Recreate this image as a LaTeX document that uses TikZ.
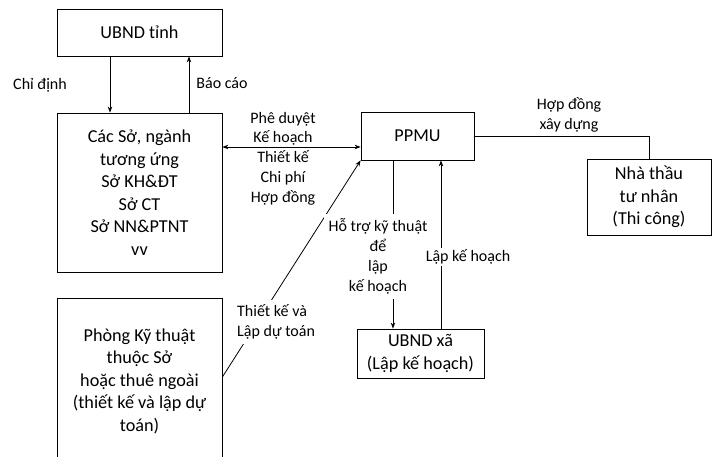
\documentclass[tikz,border=0pt]{standalone}
\usepackage{fontspec}
\setmainfont{Carlito}
\usetikzlibrary{arrows.meta,calc}
\begin{document}
\begin{tikzpicture}[x=1pt,y=-1pt,
  box/.style={draw,line width=0.8pt,align=center,inner sep=0pt,font=\fontsize{18.2}{22.5}\selectfont},
  lbl/.style={align=center,inner sep=2pt,font=\fontsize{16}{19.8}\selectfont},
  cover/.style={lbl,fill=white,inner sep=4.5pt},
  tip/.style={line width=0.8pt,-{Stealth[length=6pt,width=4.5pt]}},
  dtip/.style={line width=0.8pt,{Stealth[length=6pt,width=4.5pt]}-{Stealth[length=6pt,width=4.5pt]}},
  ln/.style={line width=0.8pt}]
\useasboundingbox[fill=white] (0,0) rectangle (712,457);

% boxes
\node[box,minimum width=165pt,minimum height=47pt] (ubndt) at (139.5,32.5) {UBND tỉnh};
\node[box,minimum width=165pt,minimum height=159pt] (cacso) at (139.5,192.5)
  {Các Sở, ngành\\tương ứng\\Sở KH\&ĐT\\Sở CT\\Sở NN\&PTNT\\vv};
\node[box,minimum width=165pt,minimum height=166pt] (phong) at (139.5,381)
  {Phòng Kỹ thuật\\thuộc Sở\\hoặc thuê ngoài\\(thiết kế và lập dự\\toán)};
\node[box,minimum width=113pt,minimum height=48pt] (ppmu) at (417.5,136) {PPMU};
\node[box,minimum width=124pt,minimum height=76pt] (nhathau) at (649,197)
  {Nhà thầu\\tư nhân\\(Thi công)};
\node[box,minimum width=127pt,minimum height=49pt] (ubndxa) at (420.5,353.5)
  {UBND xã\\(Lập kế hoạch)};

% guide coordinates
\coordinate (xa) at (110,0);
\coordinate (xb) at (189,0);
\coordinate (yc) at (0,147);
\coordinate (yp) at (0,377);
\coordinate (xd) at (393,0);
\coordinate (xe) at (441,0);

% connectors
\draw[tip] (ubndt.south -| xa) -- (cacso.north -| xa);
\draw[tip] (cacso.north -| xb) -- (ubndt.south -| xb);
\draw[dtip] (cacso.east |- yc) -- (ppmu.west |- yc);
\draw[ln] (ppmu.east) -| (nhathau.north);
\draw[tip] (phong.east |- yp) -- (ppmu.south west);
\draw[tip] (ppmu.south -| xd) -- (ubndxa.north -| xd);
\draw[tip] (ubndxa.north -| xe) -- (ppmu.south -| xe);

% labels
\node[lbl] (l1) at (40,85) {Chỉ định};
\node[lbl] (l2) at (222,83) {Báo cáo};
\node[lbl] (l3) at (283,158.5) {Phê duyệt\\Kế hoạch\\Thiết kế\\Chi phí\\Hợp đồng};
\node[lbl] (l4) at (569,115) {Hợp đồng\\xây dựng};
\node[cover,align=left,anchor=west] (l5) at (232.5,322) {Thiết kế và\\Lập dự toán};
\node[cover] (l6) at (378,256.5) {Hỗ trợ kỹ thuật\\để\\lập\\kế hoạch};
\node[cover,inner sep=2pt] (l7) at (468,257) {Lập kế hoạch};
\end{tikzpicture}
\end{document}
